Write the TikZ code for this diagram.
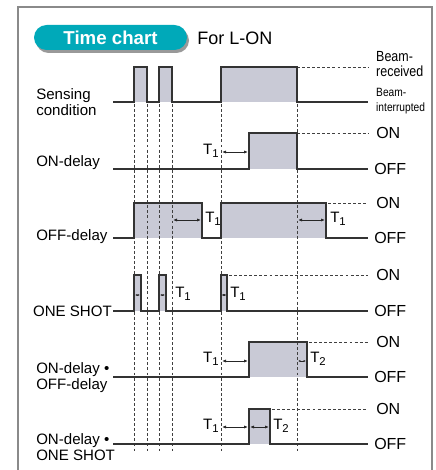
\documentclass[tikz,border=0pt]{standalone}
\usepackage{fontspec}
\setmainfont{Liberation Sans}
\usetikzlibrary{arrows.meta}
\definecolor{pulsefill}{HTML}{C9CAD6}
\definecolor{pillcyan}{HTML}{00A9B9}
\definecolor{framegray}{HTML}{8A8A8A}
\newcommand{\Tsub}[1]{T\raisebox{-0.35ex}{\fontsize{8.5}{9}\selectfont #1}}

\begin{document}
\begin{tikzpicture}[x=0.75pt,y=-0.75pt,
        sig/.style={line width=1.1pt,draw=black!80},
        pulse/.style={fill=pulsefill},
        guide/.style={dash pattern=on 2.2pt off 1.6pt,line width=0.55pt,draw=black!75},
        delay/.style={line width=0.6pt,draw=black!85,{Latex[length=3pt,width=2.4pt]}-{Latex[length=3pt,width=2.4pt]}},
        shortdelay/.style={line width=0.5pt,draw=black!85,{Latex[length=1.8pt,width=1.6pt]}-{Latex[length=1.8pt,width=1.6pt]}},
        lbl/.style={font=\fontsize{11.3}{12}\selectfont,align=left,inner sep=0pt,anchor=west},
        tlbl/.style={font=\fontsize{11.3}{12}\selectfont,inner sep=0pt}]

    \useasboundingbox (0,0) rectangle (435,470);

    % Rahmen
    \draw[framegray,line width=1.5pt] (18,471) -- (18,7) -- (432,7) -- (432,471);

    % Titel
    \fill[black!40,rounded corners=9.4pt] (36,28) rectangle (189,53);
    \fill[pillcyan,rounded corners=9.4pt] (34,25) rectangle (187,50);
    \node[text=white,font=\fontsize{14}{14}\selectfont\bfseries] (title) at (110.5,38) {Time chart};
    \node[lbl,font=\fontsize{13.5}{14}\selectfont] (mode) at (197,38) {For L-ON};

    % Flaechen
    \fill[pulse] (134,102) rectangle (147,67);
    \fill[pulse] (159,102) rectangle (172,67);
    \fill[pulse] (221,102) rectangle (297,67);
    \fill[pulse] (249,169) rectangle (297,133);
    \fill[pulse] (134,238) rectangle (202,203);
    \fill[pulse] (221,238) rectangle (326,203);
    \fill[pulse] (134,311) rectangle (141,275);
    \fill[pulse] (159,311) rectangle (166,275);
    \fill[pulse] (221,311) rectangle (227,275);
    \fill[pulse] (249,377) rectangle (307,342);
    \fill[pulse] (249,444) rectangle (270,409);

    % Hilfslinien
    \foreach \x in {134,147,159,172,221,297}
        \draw[guide] (\x,104) -- (\x,452);
    \draw[guide] (297,67) -- (368,67);
    \draw[guide] (297,133) -- (368,133);
    \draw[guide] (328,203) -- (368,203);
    \draw[guide] (229,275) -- (368,275);
    \draw[guide] (309,342) -- (368,342);
    \draw[guide] (272,409) -- (368,409);

    % Signale
    \draw[sig] (113,102) -| (134,67) -| (147,102) -| (159,67) -| (172,102)
        -| (221,67) -| (297,102) -- (368,102);
    \draw[sig] (113,169) -| (249,133) -| (297,169) -- (368,169);
    \draw[sig] (113,238) -| (134,203) -| (202,238) -| (221,203) -| (326,238) -- (368,238);
    \draw[sig] (113,311) -| (134,275) -| (141,311) -| (159,275) -| (166,311)
        -| (221,275) -| (227,311) -- (368,311);
    \draw[sig] (113,377) -| (249,342) -| (307,377) -- (368,377);
    \draw[sig] (113,444) -| (249,409) -| (270,444) -- (368,444);

    % Zeiten
    \draw[delay] (222,152) -- (248,152);
    \draw[delay] (173,220) -- (201,220);
    \draw[delay] (298,220) -- (325,220);
    \draw[shortdelay] (135,295) -- (140,295);
    \draw[shortdelay] (160,295) -- (165,295);
    \draw[shortdelay] (221.5,295) -- (226.5,295);
    \draw[delay] (222,361) -- (248,361);
    \draw[shortdelay] (298,361) -- (306,361);
    \draw[delay] (222,427) -- (248,427);
    \draw[delay] (250,427) -- (269,427);

    \node[tlbl,anchor=east] (t1a) at (219,151) {\Tsub{1}};
    \node[tlbl,anchor=west] (t1b) at (205,219) {\Tsub{1}};
    \node[tlbl,anchor=west] (t1c) at (330,219) {\Tsub{1}};
    \node[tlbl,anchor=west] (t1d) at (175,294) {\Tsub{1}};
    \node[tlbl,anchor=west] (t1e) at (230,294) {\Tsub{1}};
    \node[tlbl,anchor=east] (t1f) at (219,359) {\Tsub{1}};
    \node[tlbl,anchor=west] (t2f) at (310,359) {\Tsub{2}};
    \node[tlbl,anchor=east] (t1g) at (219,426) {\Tsub{1}};
    \node[tlbl,anchor=west] (t2g) at (273,426) {\Tsub{2}};

    % Beschriftung links
    \node[lbl] (sens) at (36,102) {Sensing\\condition};
    \node[lbl] (ondel) at (36,163) {ON-delay};
    \node[lbl] (offdel) at (36,237) {OFF-delay};
    \node[lbl,anchor=east] (shot) at (112,311) {ONE SHOT};
    \node[lbl] (onoff) at (36,378) {ON-delay \textbullet\\OFF-delay};
    \node[lbl] (onshot) at (36,447) {ON-delay \textbullet\\ONE SHOT};

    % Beschriftung rechts
    \node[lbl,font=\fontsize{11}{11.5}\selectfont,xscale=.85] (recv) at (376,64) {Beam-\\received};
    \node[lbl,font=\fontsize{9}{11}\selectfont,xscale=.85] (intr) at (376,101) {Beam-\\interrupted};
    \foreach \y/\n in {133/a,203/b,275/c,342/d,409/e}
        \node[lbl,font=\fontsize{12}{12}\selectfont] (on\n) at (376,\y) {ON};
    \foreach \y/\n in {169/a,238/b,311/c,377/d,444/e}
        \node[lbl,font=\fontsize{12}{12}\selectfont] (off\n) at (374,\y) {OFF};
\end{tikzpicture}
\end{document}
